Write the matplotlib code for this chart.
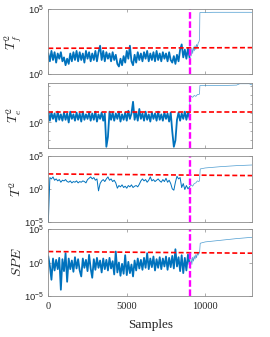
import numpy as np
import matplotlib
matplotlib.use("Agg")
import matplotlib.pyplot as plt
from matplotlib.ticker import FixedLocator, FixedFormatter, NullLocator, NullFormatter

plt.rcParams['mathtext.fontset'] = 'custom'
plt.rcParams['mathtext.rm'] = 'Liberation Sans'
plt.rcParams['mathtext.it'] = 'Liberation Sans:italic'

# ---------------- data (log10 of statistics) ----------------
normal_step = 100          # sample spacing of the normal-operation values
fault_sample = 9000
x_max = 13000

tf2_normal = [1.6, 1.0, 1.8, 1.1, 1.7, 0.9, 1.6, 1.2, 1.7, 1.0,
              1.3, 0.7, 1.2, 0.8, 1.6, 1.0, 1.7, 1.1, 1.8, 1.0,
              1.7, 1.1, 1.6, 0.9, 1.8, 1.2, 1.7, 1.0, 1.6, 1.1,
              1.8, 1.0, 1.7, 2.2, 1.1, 1.8, 1.0, 1.7, 1.2, 1.6,
              1.0, 1.7, 1.1, 1.5, 0.8, 0.6, 1.2, 0.7, 1.4, 0.9,
              1.8, 1.2, 2.2, 1.0, 0.7, 1.5, 0.9, 1.7, 1.1, 1.6,
              1.0, 1.7, 1.2, 1.8, 1.0, 1.6, 1.1, 1.7, 1.0, 1.8,
              1.1, 1.6, 1.0, 1.7, 1.2, 1.6, 1.0, 1.7, 1.1, 0.9,
              1.4, 0.8, 1.5, 1.0, 1.9, 2.3, 1.3, 1.9, 1.2, 2.0]
tf2_fault_x = [9000, 9050, 9100, 9150, 9200, 9250, 9300, 9350, 9400, 9450,
               9500, 9550, 9600, 9640, 9660, 10500, 11500, 12500, 13000]
tf2_fault = [1.3, 1.9, 1.4, 2.0, 1.6, 2.1, 1.8, 2.2, 1.9, 2.3,
             2.1, 2.4, 2.5, 2.7, 4.75, 4.77, 4.77, 4.77, 4.77]

te2_normal = [1.2, 0.2, 1.1, 0.4, 1.0, 0.1, 1.2, 0.3, 0.9, 0.2,
              1.1, 0.3, 1.0, 0.0, 1.2, 0.4, 0.9, 0.2, 1.1, 0.3,
              1.0, 0.1, 1.2, 0.3, 0.9, 0.4, 1.1, 0.2, 1.0, 0.3,
              1.2, 0.1, 0.9, 0.4, 1.1, 0.2, 1.0, -2.7, -1.6, 1.2,
              0.3, 1.1, 0.2, 1.0, 0.4, 1.2, 0.1, 0.9, 0.3, 1.1,
              0.2, 1.3, 0.4, 1.0, 2.3, 0.3, 1.1, 0.2, 1.5, 0.4,
              1.0, 0.2, 1.2, 0.3, 0.9, 0.1, 1.1, 0.4, 1.0, 0.2,
              1.2, 0.3, 0.9, 0.2, 1.1, 0.4, 1.0, 0.1, 1.1, -1.0,
              -2.7, -2.0, 0.3, 1.1, 0.2, 1.0, 0.4, 1.2, 0.3, 1.1]
te2_fault_x = [9000, 9020, 9100, 9200, 9300, 9400, 9500, 9600, 9640, 9660,
               11000, 12000, 12200, 12800, 13000]
te2_fault = [0.5, 2.6, 2.9, 2.8, 3.0, 2.9, 3.1, 3.1, 3.2, 4.1,
             4.1, 4.15, 4.3, 4.3, 4.15]

t2_normal = [-5.0, 1.7, 1.5, 1.8, 1.3, 1.5, 1.2, 1.4, 1.0, 1.3,
             1.2, 1.4, 1.1, 1.0, 1.2, 0.9, 1.1, 1.0, 1.2, 0.9,
             1.1, 1.0, 1.2, 1.1, 0.9, 1.4, 1.6, 1.8, 1.5, 1.7,
             1.3, 1.5, -0.3, 0.8, 1.2, 1.4, 1.1, 1.5, 1.8, 1.3,
             1.5, 1.1, 1.3, 0.9, 0.1, 0.5, 0.3, 0.6, 0.2, 0.4,
             0.1, 0.5, 0.3, 0.6, 0.2, 0.4, 0.5, 0.3, 0.7, 1.2,
             1.5, 1.2, 1.4, 1.0, 1.3, 1.8, 1.2, 1.4, 1.1, 1.3,
             1.5, 1.2, 1.0, 1.4, 1.1, 1.6, 1.0, 1.3, 0.8, 0.0,
             -0.2, 1.0, 1.9, 1.5, 1.7, 0.2, 0.8, -0.1, 0.5, 0.0]
t2_fault_x = [9000, 9100, 9200, 9300, 9400, 9500, 9600, 9640, 9680,
              10000, 11000, 12000, 13000]
t2_fault = [0.3, 0.6, 0.4, 0.8, 0.9, 1.2, 1.1, 1.3, 3.0,
            3.15, 3.35, 3.5, 3.6]

spe_normal = [0.9, -0.5, -2.6, 0.6, -1.2, 0.4, -1.0, 0.7, -4.1, 0.5,
              -1.3, 1.4, -2.9, 0.6, -1.0, 0.3, -1.4, 0.8, -0.9, 0.5,
              -1.2, -2.1, 0.6, -0.8, 0.4, -1.3, 1.15, -0.9, -2.3, 0.5,
              -1.1, 0.7, -0.8, 0.3, -1.5, 0.6, -1.0, 0.4, -1.2, 0.7,
              -0.9, 0.2, -1.8, 1.65, -1.5, 0.0, -2.0, -0.2, -1.7, 1.1,
              -1.9, 0.1, -1.6, -0.3, -2.1, 0.3, -1.2, 0.6, -0.9, 0.4,
              -1.1, 0.7, -0.8, 1.4, -1.0, 0.6, -0.7, 0.9, -1.2, 0.5,
              -0.8, 0.8, -1.0, 0.6, -0.6, 0.9, -1.1, 0.7, -0.7, 1.0,
              -0.9, 2.0, -0.6, 0.8, -1.3, 1.1, -1.6, 0.7, -1.2, 1.2]
spe_fault_x = [9000, 9050, 9100, 9150, 9200, 9250, 9300, 9350, 9400, 9450,
               9500, 9550, 9600, 9640, 9680, 10000, 11000, 12000, 13000]
spe_fault = [-0.2, -0.9, 0.6, -0.3, 0.8, 0.2, 1.0, 0.5, 1.2, 0.7,
             1.4, 1.1, 1.5, 1.4, 2.9, 3.1, 3.35, 3.6, 3.8]

limit_x = [0, 13000]
tf2_limit = [2.0, 2.05]
te2_limit = [1.15, 1.15]
t2_limit = [2.25, 2.0]
spe_limit = [1.65, 1.4]

ylabels = [r'$T_f^2$', r'$T_e^2$', r'$T^2$', r'$SPE$']
ylims = [(0, 5), (-2.8, 4.35), (-5, 5), (-5, 5)]
yticks = [[0, 5], [0], [-5, 0, 5], [-5, 0, 5]]
xticks = [0, 5000, 10000]
xtick_labels = ['0', '5000', '10000']

panels = [(tf2_normal, tf2_fault_x, tf2_fault, tf2_limit),
          (te2_normal, te2_fault_x, te2_fault, te2_limit),
          (t2_normal, t2_fault_x, t2_fault, t2_limit),
          (spe_normal, spe_fault_x, spe_fault, spe_limit)]
normal_lw = [1.3, 1.3, 0.7, 1.3]

# ---------------- figure ----------------
W, H = 270, 337
fig = plt.figure(figsize=(W / 100, H / 100), dpi=100)
left_px, right_px = 48.3, 252.3
rows_px = [(9.3, 74.3), (83.3, 147.7), (155.7, 222.0), (229.3, 295.7)]

blue = '#0072BD'
spine_c = '#8c8c8c'
text_c = '#262626'

for i, ((normal, fx, fy, lim), (t, b)) in enumerate(zip(panels, rows_px)):
    ax = fig.add_axes([left_px / W, 1 - b / H, (right_px - left_px) / W, (b - t) / H])
    nx = np.arange(len(normal)) * normal_step
    # normal-operation part (dense noise) and fault part (thin line)
    ax.plot(np.concatenate([nx, fx[:1]]), 10.0 ** np.concatenate([normal, fy[:1]]),
            color=blue, lw=normal_lw[i])
    ax.plot(fx, 10.0 ** np.array(fy), color=blue, lw=0.5, alpha=0.7)
    ax.plot(limit_x, 10.0 ** np.array(lim), color='red', lw=1.2,
            linestyle=(0, (3, 1.6)))
    ax.axvline(fault_sample, color='#ff00ff', lw=1.7, linestyle=(0, (2.8, 1.1)))
    ax.set_yscale('log')
    ax.set_xlim(0, x_max)
    ax.set_ylim(10.0 ** ylims[i][0], 10.0 ** ylims[i][1])
    ax.yaxis.set_major_locator(FixedLocator([10.0 ** k for k in yticks[i]]))
    ax.yaxis.set_major_formatter(FixedFormatter(['$10^{%d}$' % k for k in yticks[i]]))
    if i == 1:
        ax.yaxis.set_minor_locator(FixedLocator([10.0 ** k for k in range(-2, 5)]))
    else:
        ax.yaxis.set_minor_locator(NullLocator())
    ax.yaxis.set_minor_formatter(NullFormatter())
    ax.set_xticks(xticks)
    if i == 3:
        ax.set_xticklabels(xtick_labels, fontfamily='Liberation Serif', fontsize=7.5,
                           color=text_c)
        ax.set_xlabel('Samples', fontfamily='Liberation Serif', fontsize=9.5,
                      color=text_c)
        ax.xaxis.set_label_coords(0.5, -0.345)
    else:
        ax.set_xticklabels([])
    ax.tick_params(axis='both', which='both', direction='in', top=True, right=True,
                   color=spine_c, width=0.5)
    ax.tick_params(axis='both', which='major', length=2.5)
    ax.tick_params(axis='both', which='minor', length=1.5)
    ax.tick_params(axis='y', labelsize=6.8, pad=3, labelcolor=text_c)
    ax.tick_params(axis='x', pad=4.5)
    for s in ax.spines.values():
        s.set_color(spine_c)
        s.set_linewidth(0.6)
    ax.set_ylabel(ylabels[i], fontsize=10, math_fontfamily='cm', color=text_c)
    ax.yaxis.set_label_coords(-0.12, 0.5)

fig.savefig('out.png', dpi=100)
